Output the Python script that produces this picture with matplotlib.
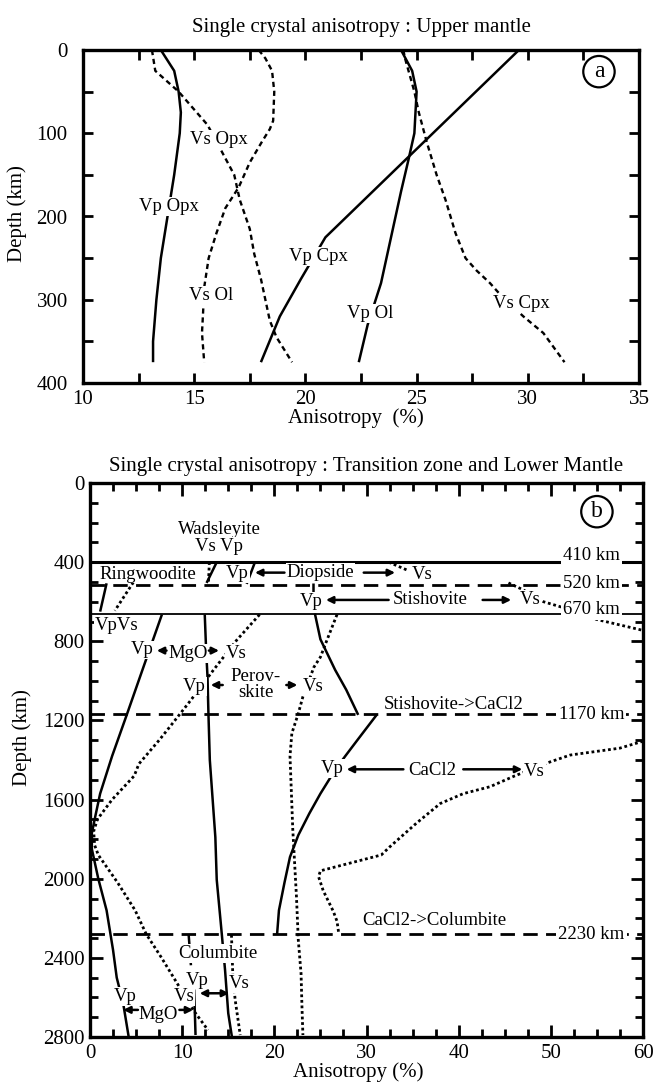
import matplotlib.pyplot as plt
import numpy as np

plt.rcParams['font.family'] = ['Liberation Serif', 'DejaVu Serif']

# ---------------- panel a : upper mantle ----------------
vp_opx_depth = [0, 25, 50, 75, 100, 150, 200, 250, 300, 350, 375]
vp_opx = [13.5, 14.1, 14.3, 14.4, 14.35, 14.1, 13.8, 13.5, 13.3, 13.15, 13.15]

vs_opx_depth = [0, 25, 50, 90, 120, 150, 180, 215, 245, 275, 325, 345, 375]
vs_opx = [13.1, 13.25, 14.3, 15.6, 16.2, 16.8, 17.05, 17.5, 17.7, 18.0, 18.4, 18.7, 19.4]

vs_ol_depth = [0, 10, 25, 50, 85, 95, 110, 135, 165, 190, 220, 250, 285, 315, 340, 375]
vs_ol = [17.9, 18.2, 18.5, 18.6, 18.55, 18.4, 18.05, 17.5, 17.0, 16.4, 16.0, 15.65, 15.45, 15.4, 15.35, 15.45]

vp_ol_depth = [0, 25, 50, 100, 130, 170, 225, 280, 330, 375]
vp_ol = [24.3, 24.8, 25.0, 24.9, 24.65, 24.3, 23.85, 23.4, 22.8, 22.4]

vs_cpx_depth = [0, 12, 50, 75, 110, 150, 180, 220, 250, 265, 280, 295, 320, 340, 375]
vs_cpx = [24.4, 24.5, 24.9, 25.1, 25.45, 25.9, 26.3, 26.75, 27.2, 27.7, 28.3, 28.8, 29.8, 30.7, 31.65]

vp_cpx_depth = [0, 225, 275, 320, 375]
vp_cpx = [29.6, 20.9, 19.8, 18.85, 18.0]

# ---------------- panel b : transition zone + lower mantle ----------------
boundary_depth = [400, 515, 660, 1170, 2280]
boundary_text = ['410 km', '520 km', '670 km', '1170 km', '2230 km']

wad_vp_depth = [400, 505]
wad_vp = [13.75, 12.65]
wad_vs_depth = [400, 505]
wad_vs = [12.95, 12.85]

diop_vp_depth = [400, 510]
diop_vp = [17.9, 17.0]
diop_vs_depth = [400, 440]
diop_vs = [32.4, 34.4]

ring_vp_depth = [507, 650]
ring_vp = [1.8, 1.1]
ring_vs_depth = [502, 645]
ring_vs = [4.7, 2.7]

stish_vp_depth = [507, 556]
stish_vp = [24.2, 24.2]
stish_vp2_depth = [660, 790, 945, 1045, 1172]
stish_vp2 = [24.4, 25.0, 26.6, 27.8, 29.1]
stish_vs_depth = [505, 540, 600, 625, 690, 745]
stish_vs = [45.4, 47.0, 49.2, 51.0, 55.0, 60.0]

mgo_vp_depth = [665, 930, 1170, 1380, 1570, 1690, 1770, 1850, 2000, 2160, 2360, 2500, 2630, 2800]
mgo_vp = [7.8, 5.8, 4.0, 2.4, 1.1, 0.55, 0.2, 0.2, 0.9, 1.8, 2.5, 2.9, 3.6, 4.2]
mgo_vs_depth = [665, 795, 945, 1100, 1230, 1300, 1420, 1480, 1600, 1700, 1760, 1830, 1880,
                2020, 2160, 2280, 2395, 2555, 2670, 2765]
mgo_vs = [18.4, 15.9, 13.4, 10.9, 8.7, 7.5, 5.3, 4.8, 2.4, 0.8, 0.4, 0.5, 0.9,
          3.0, 4.9, 6.1, 7.7, 9.8, 11.3, 12.8]

pv_vp_depth = [665, 845, 980, 1165, 1400, 1790, 2005, 2280, 2460, 2680, 2800]
pv_vp = [12.45, 12.6, 12.75, 12.85, 13.0, 13.6, 13.75, 14.3, 14.65, 15.0, 15.4]
pv_vs_depth = [665, 795, 880, 930, 1080, 1165, 1265, 1380, 1750, 2090, 2310, 2480, 2650, 2790]
pv_vs = [26.8, 25.7, 25.0, 24.3, 23.1, 22.6, 21.9, 21.7, 22.0, 22.4, 22.6, 22.9, 23.0, 23.1]

cacl2_vp_depth = [1172, 1300, 1380, 1450, 1570, 1670, 1780, 1890, 2020, 2160, 2280]
cacl2_vp = [31.1, 29.0, 27.7, 26.6, 25.0, 23.8, 22.6, 21.7, 21.1, 20.5, 20.3]
cacl2_vs_depth = [1305, 1340, 1375, 1410, 1480, 1535, 1570, 1620, 1720, 1840, 1880,
                  1960, 1990, 2060, 2165, 2215, 2280]
cacl2_vs = [60.0, 57.5, 52.1, 49.9, 46.1, 43.4, 40.5, 38.0, 35.4, 32.5, 31.6,
            25.0, 24.8, 25.3, 26.4, 26.8, 27.0]

col_vp_depth = [2280, 2500]
col_vp = [10.7, 11.05]
col_vp2_depth = [2560, 2790]
col_vp2 = [11.3, 11.45]
col_vs_depth = [2284, 2495, 2612, 2790]
col_vs = [15.35, 15.5, 15.75, 16.3]

LW = 1.8
SOLID = dict(color='black', lw=LW, solid_capstyle='butt', zorder=2)
DASHA = dict(color='black', lw=1.7, ls=(0, (2.2, 1.6)), zorder=2)
DOT = dict(color='black', lw=2.0, ls=(0, (1, 1)), zorder=2)
TXT = dict(fontsize=13.5, ha='center', va='center', zorder=5)
WBOX = dict(boxstyle='square,pad=0.05', fc='white', ec='none')

fig = plt.figure(figsize=(6.56, 10.84), dpi=100)
ax1 = fig.add_axes([83 / 656, 1 - 383 / 1084, 556 / 656, 333 / 1084])
ax2 = fig.add_axes([90 / 656, 1 - 1037 / 1084, 553 / 656, 554 / 1084])

# ---- panel a
ax1.plot(vp_opx, vp_opx_depth, **SOLID)
ax1.plot(vp_ol, vp_ol_depth, **SOLID)
ax1.plot(vp_cpx, vp_cpx_depth, **SOLID)
ax1.plot(vs_opx, vs_opx_depth, **DASHA)
ax1.plot(vs_ol, vs_ol_depth, **DASHA)
ax1.plot(vs_cpx, vs_cpx_depth, **DASHA)

for t, x, y in [('Vs Opx', 16.1, 108), ('Vp Opx', 13.86, 188), ('Vs Ol', 15.74, 295),
                ('Vp Cpx', 20.6, 248), ('Vp Ol', 22.9, 317), ('Vs Cpx', 29.7, 305)]:
    ax1.text(x, y, t, bbox=WBOX, **TXT)
ax1.text(33.2, 26, 'a', fontsize=17, ha='center', va='center',
         bbox=dict(boxstyle='circle,pad=0.22', fc='white', ec='black', lw=1.6))

ax1.set_xlim(10, 35)
ax1.set_ylim(400, 0)
ax1.set_xticks(np.arange(10, 36, 5))
ax1.set_xticks(np.arange(10, 36, 2.5), minor=True)
ax1.set_yticks(np.arange(0, 401, 100))
ax1.set_yticks(np.arange(0, 401, 50), minor=True)
ax1.tick_params(which='both', direction='in', top=True, right=True, length=7, width=2,
                labelsize=15)
ax1.tick_params(axis='y', pad=11)
ax1.tick_params(axis='x', pad=5)
ax1.set_xlabel('Anisotropy  (%)', fontsize=15)
ax1.set_ylabel('Depth (km)', fontsize=15)
ax1.xaxis.set_label_coords(0.49, -0.075)
ax1.yaxis.set_label_coords(-0.10, 0.51)
ax1.set_title('Single crystal anisotropy : Upper mantle', fontsize=15, pad=13)

# ---- panel b
for d, t in zip(boundary_depth, boundary_text):
    if t in ('410 km',):
        ax2.axhline(d, color='black', lw=2.2, zorder=1)
    elif t == '670 km':
        ax2.axhline(d, color='black', lw=1.3, zorder=1)
    else:
        ax2.axhline(d, color='black', lw=2.0, ls=(0, (5.2, 3)), zorder=1)
km_y = {'410 km': 364, '520 km': 507, '670 km': 637, '1170 km': 1172, '2230 km': 2284}
for t in boundary_text:
    ax2.text(54.4, km_y[t], t, fontsize=13.5, ha='center', va='center', zorder=5,
             bbox=dict(boxstyle='square,pad=0.12', fc='white', ec='none'))

ax2.plot(wad_vp, wad_vp_depth, **SOLID)
ax2.plot(wad_vs, wad_vs_depth, **DOT)
ax2.plot(diop_vp, diop_vp_depth, **SOLID)
ax2.plot(diop_vs, diop_vs_depth, **DOT)
ax2.plot(ring_vp, ring_vp_depth, **SOLID)
ax2.plot(ring_vs, ring_vs_depth, **DOT)
ax2.plot(stish_vp, stish_vp_depth, **SOLID)
ax2.plot(stish_vp2, stish_vp2_depth, **SOLID)
ax2.plot(stish_vs, stish_vs_depth, **DOT)
ax2.plot(mgo_vp, mgo_vp_depth, **SOLID)
ax2.plot(mgo_vs, mgo_vs_depth, **DOT)
ax2.plot(pv_vp, pv_vp_depth, **SOLID)
ax2.plot(pv_vs, pv_vs_depth, **DOT)
ax2.plot(cacl2_vp, cacl2_vp_depth, **SOLID)
ax2.plot(cacl2_vs, cacl2_vs_depth, **DOT)
ax2.plot(col_vp, col_vp_depth, color='black', lw=LW, ls=(0, (5, 2.5)), zorder=2)
ax2.plot(col_vp2, col_vp2_depth, **SOLID)
ax2.plot(col_vs, col_vs_depth, **DOT)

labels_b = [('Wadsleyite', 14.0, 234), ('Vs Vp', 14.0, 322), ('Ringwoodite', 6.3, 460),
            ('Vp', 16.0, 456), ('Diopside', 25.0, 453), ('Vs', 36.0, 460),
            ('Vp', 24.0, 600), ('Stishovite', 36.9, 591), ('Vs', 47.8, 591),
            ('VpVs', 2.9, 718),
            ('Vp', 5.7, 844), ('MgO', 10.6, 861), ('Vs', 15.85, 861),
            ('Vp', 11.3, 1029), ('Perov-\nskite', 18.0, 1020), ('Vs', 24.2, 1029),
            ('Stishovite->CaCl2', 39.4, 1117),
            ('Vp', 26.3, 1442), ('CaCl2', 37.1, 1454), ('Vs', 48.2, 1459),
            ('CaCl2->Columbite', 37.4, 2213), ('Columbite', 13.9, 2377),
            ('Vp', 11.6, 2512), ('Vs', 16.2, 2530),
            ('Vp', 3.85, 2596), ('Vs', 10.2, 2596), ('MgO', 7.4, 2684)]
for t, x, y in labels_b:
    ax2.text(x, y, t, bbox=WBOX, linespacing=0.9, **TXT)

arrows_b = [(21.1, 17.9, 453), (29.7, 33.1, 453),
            (32.4, 25.6, 591), (42.6, 45.7, 591),
            (8.3, 7.25, 847), (12.9, 14.0, 847),
            (14.4, 13.1, 1021), (21.3, 22.5, 1021),
            (34.0, 27.85, 1447), (40.5, 46.9, 1447),
            (5.2, 3.6, 2663), (9.7, 11.2, 2663)]
for x0, x1, y in arrows_b:
    ax2.annotate('', xy=(x1, y), xytext=(x0, y), zorder=6,
                 arrowprops=dict(arrowstyle='-|>', color='black', lw=1.8,
                                 mutation_scale=10, shrinkA=0, shrinkB=0))
ax2.annotate('', xy=(15.1, 2579), xytext=(11.9, 2579), zorder=6,
             arrowprops=dict(arrowstyle='<|-|>', color='black', lw=1.8,
                             mutation_scale=10, shrinkA=0, shrinkB=0))

ax2.text(55.0, 145, 'b', fontsize=17, ha='center', va='center',
         bbox=dict(boxstyle='circle,pad=0.22', fc='white', ec='black', lw=1.6))

ax2.set_xlim(0, 60)
ax2.set_ylim(2800, 0)
ax2.set_xticks(np.arange(0, 61, 10))
ax2.set_xticks(np.arange(0, 61, 2.5), minor=True)
ax2.set_yticks(np.arange(0, 2801, 400))
ax2.set_yticks(np.arange(0, 2801, 100), minor=True)
ax2.tick_params(which='major', direction='in', top=True, right=True, length=9, width=2,
                labelsize=15)
ax2.tick_params(which='minor', direction='in', top=True, right=True, length=6, width=2)
ax2.tick_params(axis='y', pad=4)
ax2.tick_params(axis='x', pad=5)
ax2.set_xlabel('Anisotropy (%)', fontsize=15)
ax2.set_ylabel('Depth (km)', fontsize=15)
ax2.xaxis.set_label_coords(0.485, -0.045)
ax2.yaxis.set_label_coords(-0.105, 0.54)
ax2.set_title('Single crystal anisotropy : Transition zone and Lower Mantle',
              fontsize=15, pad=9)

for ax in (ax1, ax2):
    for s in ax.spines.values():
        s.set_linewidth(2.4)

fig.savefig('out.png', dpi=100, facecolor='white')
